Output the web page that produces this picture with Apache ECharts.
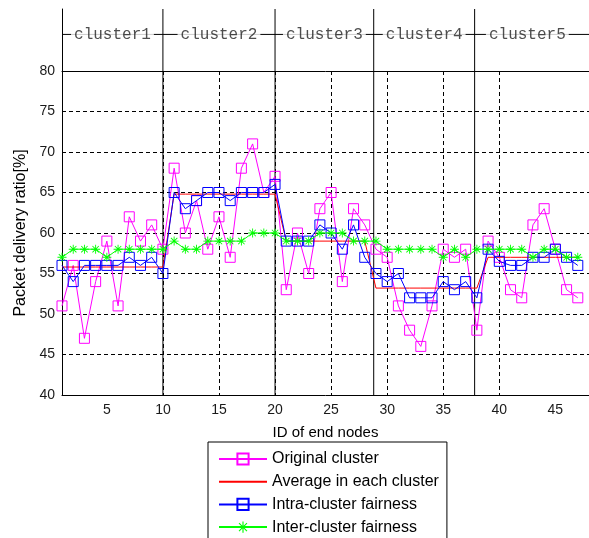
<!DOCTYPE html>
<html>
<head>
<meta charset="utf-8">
<script src="https://cdn.jsdelivr.net/npm/echarts@6/dist/echarts.min.js"></script>
<style>
  html, body { margin: 0; padding: 0; background: #fff; }
  #chart { width: 589px; height: 538px; }
</style>
</head>
<body>
<div id="chart"></div>
<script>
// End-node IDs (x axis)
const nodeIds = [1, 2, 3, 4, 5, 6, 7, 8, 9, 10,
  11, 12, 13, 14, 15, 16, 17, 18, 19, 20,
  21, 22, 23, 24, 25, 26, 27, 28,
  29, 30, 31, 32, 33, 34, 35, 36, 37, 38,
  39, 40, 41, 42, 43, 44, 45, 46, 47];

// Packet delivery ratio [%] per node
const originalCluster = [51, 56, 47, 54, 59, 51, 62, 59, 61, 58,
  68, 60, 64, 58, 62, 57, 68, 71, 65, 67,
  53, 60, 55, 63, 65, 54, 63, 61,
  58, 57, 51, 48, 46, 51, 58, 57, 58, 48,
  59, 57, 53, 52, 61, 63, 58, 53, 52];

const averageInCluster = [55.8, 55.8, 55.8, 55.8, 55.8, 55.8, 55.8, 55.8, 55.8, 55.8,
  64.8, 64.8, 64.8, 64.8, 64.8, 64.8, 64.8, 64.8, 64.8, 64.8,
  59, 59, 59, 59, 59, 59, 59, 59,
  53.2, 53.2, 53.2, 53.2, 53.2, 53.2, 53.2, 53.2, 53.2, 53.2,
  57, 57, 57, 57, 57, 57, 57, 57, 57];

const intraClusterFairness = [56, 54, 56, 56, 56, 56, 57, 56, 57, 55,
  65, 63, 64, 65, 65, 64, 65, 65, 65, 66,
  59, 59, 59, 61, 60, 58, 61, 57,
  55, 54, 55, 52, 52, 52, 54, 53, 54, 52,
  58, 56.5, 56, 56, 57, 57, 58, 57, 56];

const interClusterFairness = [57, 58, 58, 58, 57, 58, 58, 58, 58, 58,
  59, 58, 58, 59, 59, 59, 59, 60, 60, 60,
  59, 59, 59, 60, 60, 60, 59, 59,
  59, 58, 58, 58, 58, 58, 57, 58, 57, 58,
  58, 58, 58, 58, 57, 58, 58, 57, 57];

// Cluster names and the node-ID positions of their edges
const clusterNames = ['cluster1', 'cluster2', 'cluster3', 'cluster4', 'cluster5'];
const clusterEdges = [1, 10, 20, 28.8, 37.8, 47.2];

// Axis ticks
const xTicks = [5, 10, 15, 20, 25, 30, 35, 40, 45];
const yMin = 40, yMax = 80, yStep = 5;

const X_MIN = 1, X_MAX = 48;
const LABEL_ROW = 0.59; // height of the cluster bracket within the header band

const FONT = 'Liberation Sans, Arial, sans-serif';
const CLEAR = 'rgba(255,255,255,0)';
const asteriskPath = 'path://M0 4.5H10V5.5H0Z M4.5 0H5.5V10H4.5Z M1.1 1.8L1.8 1.1L8.9 8.2L8.2 8.9Z M8.2 1.1L8.9 1.8L1.8 8.9L1.1 8.2Z';

function pairs(ys) { return nodeIds.map((x, i) => [x, ys[i]]); }

const series = [];

// Solid cluster separators in the plot and in the header band
clusterEdges.slice(1, -1).forEach((b) => {
  series.push({
    type: 'line', xAxisIndex: 0, yAxisIndex: 0, silent: true, z: 1,
    symbol: 'none', data: [[b, yMin], [b, yMax]],
    lineStyle: { color: '#000', width: 1 }
  });
  series.push({
    type: 'line', xAxisIndex: 1, yAxisIndex: 1, silent: true, z: 1,
    symbol: 'none', data: [[b, 0], [b, 1]],
    lineStyle: { color: '#000', width: 1 }
  });
});

// Bracket line carrying the cluster names
series.push({
  type: 'line', xAxisIndex: 1, yAxisIndex: 1, silent: true, z: 1,
  symbol: 'none', data: [[X_MIN, LABEL_ROW], [X_MAX, LABEL_ROW]],
  lineStyle: { color: '#000', width: 1 }
});
series.push({
  type: 'scatter', xAxisIndex: 1, yAxisIndex: 1, silent: true, z: 3,
  symbolSize: 1, itemStyle: { color: CLEAR },
  data: clusterNames.map((n, i) => ({
    name: n,
    value: [(clusterEdges[i] + clusterEdges[i + 1]) / 2, LABEL_ROW]
  })),
  label: {
    show: true, position: 'inside', formatter: '{b}',
    fontFamily: 'Liberation Mono, Courier New, monospace', fontSize: 16,
    color: '#222', backgroundColor: '#fff', padding: [2, 3]
  }
});

// Data series
series.push({
  name: 'Original cluster', type: 'line', xAxisIndex: 0, yAxisIndex: 0, z: 5,
  data: pairs(originalCluster), symbol: 'rect', symbolSize: 10,
  lineStyle: { color: '#ff00ff', width: 1 },
  itemStyle: { color: CLEAR, borderColor: '#ff00ff', borderWidth: 1 }
});
series.push({
  name: 'Average in each cluster', type: 'line', xAxisIndex: 0, yAxisIndex: 0, z: 6,
  data: pairs(averageInCluster), symbol: 'rect', symbolSize: 0, showSymbol: false,
  lineStyle: { color: '#ff0000', width: 1 },
  itemStyle: { color: CLEAR, borderWidth: 0 }
});
series.push({
  name: 'Intra-cluster fairness', type: 'line', xAxisIndex: 0, yAxisIndex: 0, z: 7,
  data: pairs(intraClusterFairness), symbol: 'rect', symbolSize: 10,
  lineStyle: { color: '#0000ff', width: 1 },
  itemStyle: { color: CLEAR, borderColor: '#0000ff', borderWidth: 1 }
});
series.push({
  name: 'Inter-cluster fairness', type: 'line', xAxisIndex: 0, yAxisIndex: 0, z: 8,
  data: pairs(interClusterFairness), symbol: asteriskPath, symbolSize: 9,
  lineStyle: { color: '#00ff00', width: 1 },
  itemStyle: { color: '#00ff00' }
});

const option = {
  animation: false,
  backgroundColor: '#fff',
  grid: [
    { left: 62, right: -5, top: 71, bottom: 143 },
    { left: 62, right: -5, top: 9, height: 62 }
  ],
  xAxis: [
    {
      gridIndex: 0, type: 'value', min: X_MIN, max: X_MAX,
      axisLine: { show: true, lineStyle: { color: '#000', width: 1 } },
      axisTick: { show: false, customValues: xTicks },
      axisLabel: { customValues: xTicks, color: '#1a1a1a', fontSize: 14, fontFamily: FONT, margin: 8 },
      splitLine: { show: true, showMinLine: false, showMaxLine: false,
        lineStyle: { color: '#000', type: [4, 3], width: 1 } },
      name: 'ID of end nodes', nameLocation: 'middle', nameGap: 30,
      nameTextStyle: { color: '#000', fontSize: 15, fontFamily: FONT }
    },
    {
      gridIndex: 1, type: 'value', min: X_MIN, max: X_MAX,
      axisLine: { show: true, lineStyle: { color: '#000', width: 1 } },
      axisTick: { show: false }, axisLabel: { show: false }, splitLine: { show: false }
    }
  ],
  yAxis: [
    {
      gridIndex: 0, type: 'value', min: yMin, max: yMax, interval: yStep,
      axisLine: { show: true, lineStyle: { color: '#000', width: 1 } },
      axisTick: { show: false },
      axisLabel: { color: '#1a1a1a', fontSize: 14, fontFamily: FONT, margin: 7 },
      splitLine: { show: true, showMinLine: false, showMaxLine: false,
        lineStyle: { color: '#000', type: [4, 3], width: 1 } },
      name: 'Packet delivery ratio[%]', nameLocation: 'middle', nameGap: 31,
      nameTextStyle: { color: '#000', fontSize: 16, fontFamily: FONT }
    },
    {
      gridIndex: 1, type: 'value', min: 0, max: 1,
      axisLine: { show: true, lineStyle: { color: '#000', width: 1 } },
      axisTick: { show: false }, axisLabel: { show: false }, splitLine: { show: false }
    }
  ],
  legend: {
    orient: 'vertical', left: 208, top: 442, height: 140,
    itemWidth: 48, itemHeight: 14, itemGap: 6.7,
    padding: [9, 8, 10, 10],
    borderColor: '#000', borderWidth: 1, backgroundColor: '#fff',
    textStyle: { color: '#000', fontSize: 16, fontFamily: FONT },
    data: ['Original cluster', 'Average in each cluster', 'Intra-cluster fairness', 'Inter-cluster fairness']
  },
  series: series
};

const chart = echarts.init(document.getElementById('chart'), null, { renderer: 'canvas' });
chart.setOption(option);
</script>
</body>
</html>
